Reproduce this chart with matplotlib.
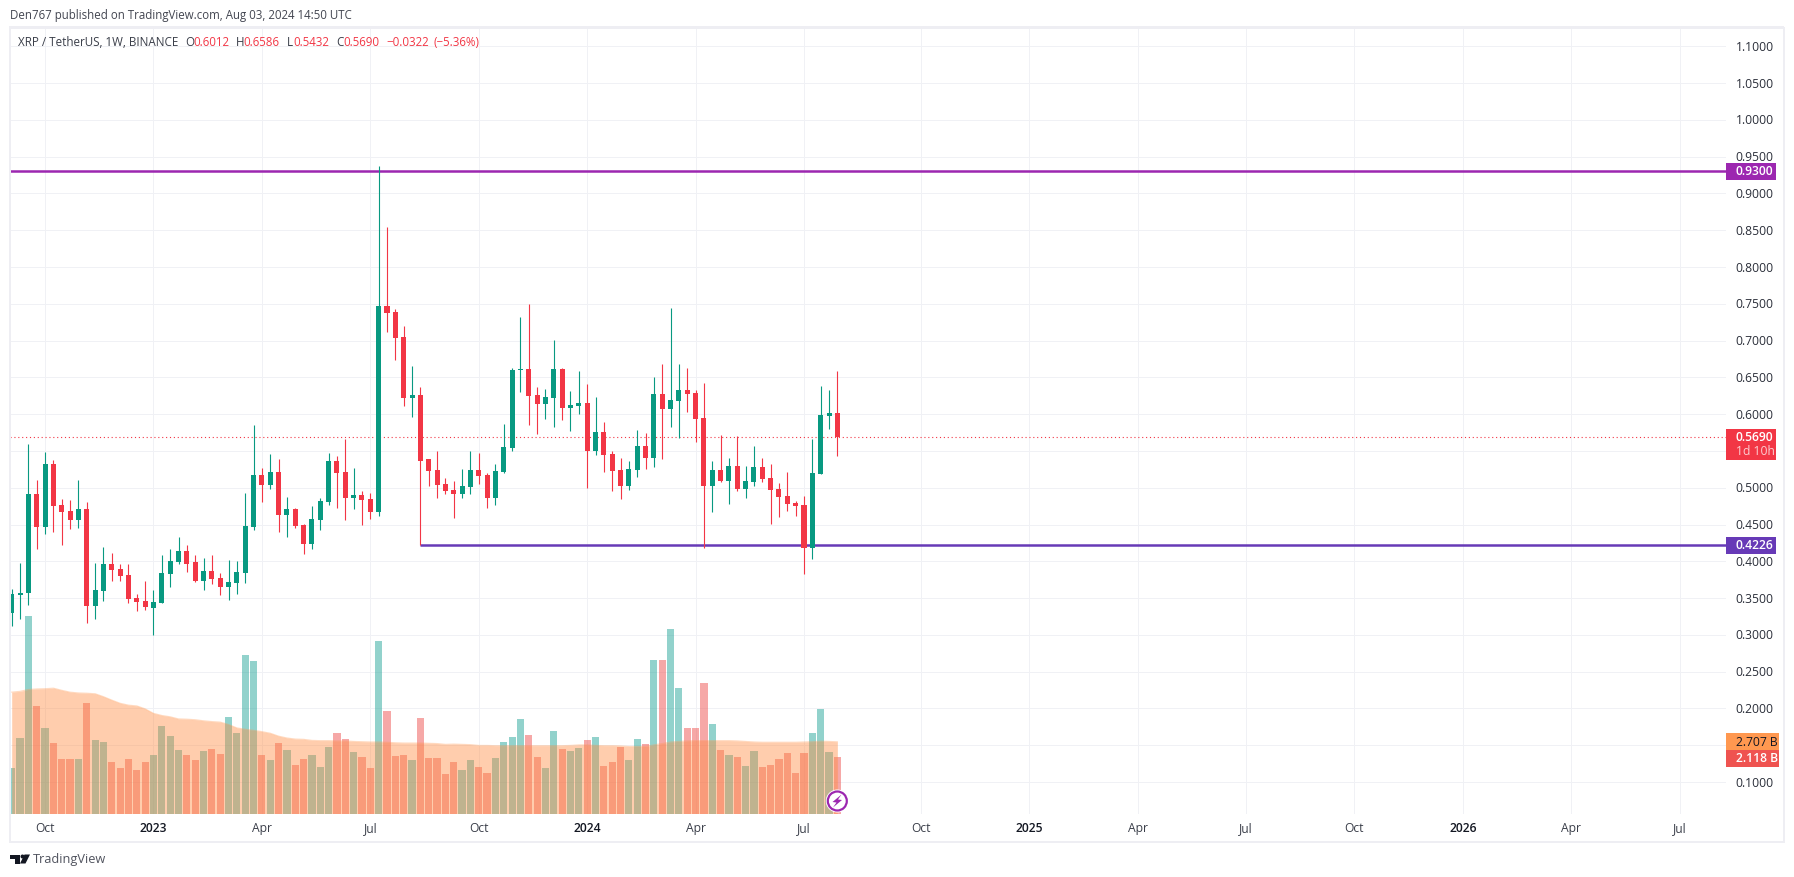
import matplotlib
matplotlib.use("Agg")
import matplotlib.pyplot as plt
from matplotlib.patches import Rectangle, Polygon, Circle

plt.rcParams["font.family"] = ["Open Sans", "DejaVu Sans"]

W, H = 1794, 877

# weekly candles, one entry per week
opens = [.3301, .3546, .3569, .4914, .4466, .5322, .4765, .4683, .4561, .4710,
         .3392, .3596, .3963, .3895, .3813, .3501, .3460, .3365, .3433, .3827,
         .3990, .4139, .3990, .3732, .3868, .3772, .3650, .3704, .3840, .4466,
         .5173, .5037, .5213, .4629, .4710, .4493, .4235, .4561, .4805, .5363,
         .5213, .4860, .4901, .4846, .4670, .7470, .7389, .7049, .6220, .6257,
         .5390, .5240, .5050, .4969, .4914, .5009, .5240, .5173, .4860, .5213,
         .5540, .6600, .6613, .6260, .6138, .6219, .6613, .6083, .6110, .6151,
         .5499, .5757, .5458, .5240, .5023, .5240, .5567, .5404, .6274, .6070,
         .6178, .6328, .6287, .5947, .5023, .5240, .5091, .5295, .4982, .5077,
         .5281, .5132, .4982, .4887, .4792, .4765, .4180, .5186, .5975, .6012]
highs = [.3623, .3976, .5594, .5105, .5485, .5376, .4846, .4833, .5105, .4805,
         .3976, .4194, .4112, .3963, .3963, .3555, .3732, .3609, .4085, .4167,
         .4330, .4221, .4085, .4044, .4085, .3840, .4017, .4003, .4928, .5852,
         .5268, .5458, .5390, .4873, .4724, .4506, .4751, .4860, .5472, .5431,
         .5662, .5268, .4955, .4928, .9373, .8544, .7429, .7198, .6654, .6370,
         .5390, .5499, .5132, .5091, .5254, .5499, .5472, .5200, .5322, .5866,
         .6627, .7320, .7497, .6369, .6342, .7004, .6627, .6314, .6586, .6409,
         .6233, .5893, .5499, .5404, .5363, .5784, .5743, .6505, .6681, .7443,
         .6681, .6627, .6328, .6423, .5363, .5716, .5404, .5703, .5295, .5567,
         .5404, .5322, .5064, .5213, .4819, .4887, .5662, .6382, .6328, .6586]
lows = [.3120, .3215, .3405, .4167, .4371, .4398, .4221, .4439, .4452, .3161,
        .3215, .3460, .3732, .3732, .3433, .3324, .3337, .3000, .3433, .3650,
        .3963, .3854, .3718, .3609, .3691, .3541, .3473, .3555, .3704, .4425,
        .4805, .4982, .4398, .4330, .4452, .4099, .4167, .4425, .4765, .4724,
        .4561, .4710, .4493, .4574, .4615, .7117, .6736, .6111, .5961, .4221,
        .5023, .4860, .4914, .4588, .4860, .4914, .5050, .4724, .4765, .5200,
        .5499, .6301, .5852, .5730, .5934, .5825, .5920, .5771, .6002, .4996,
        .5444, .5213, .4955, .4846, .4969, .5145, .5254, .5281, .5390, .5825,
        .5675, .6029, .5621, .4180, .4670, .5077, .4778, .4955, .4860, .5023,
        .5077, .4507, .4602, .4683, .4615, .3827, .4031, .5186, .5798, .5432]
closes = [.3555, .3569, .4914, .4466, .5322, .4751, .4670, .4561, .4710, .3392,
          .3609, .3963, .3881, .3800, .3487, .3446, .3378, .3446, .3840, .4003,
          .4139, .3963, .3732, .3868, .3759, .3650, .3718, .3854, .4479, .5173,
          .5037, .5213, .4629, .4710, .4479, .4235, .4574, .4819, .5363, .5200,
          .4860, .4901, .4833, .4670, .7470, .7375, .7035, .6220, .6257, .5363,
          .5227, .5037, .4955, .4914, .5023, .5240, .5159, .4860, .5227, .5553,
          .6600, .6613, .6246, .6138, .6233, .6613, .6083, .6124, .6151, .5499,
          .5757, .5444, .5227, .5023, .5254, .5567, .5404, .6274, .6070, .6192,
          .6328, .6274, .5934, .5023, .5240, .5091, .5295, .4982, .5091, .5281,
          .5118, .4969, .4873, .4778, .4751, .4180, .5200, .5988, .6015, .5690]

# volume in billions and its moving average
volumes = [1.72, 2.86, 7.47, 4.04, 3.21, 2.67, 2.07, 2.07, 2.07, 4.16,
           2.79, 2.71, 1.95, 1.72, 2.07, 1.65, 1.95, 2.22, 3.32, 2.94,
           2.41, 2.22, 2.03, 2.37, 2.45, 2.26, 3.66, 3.02, 5.98, 5.75,
           2.22, 2.03, 2.67, 2.41, 1.84, 2.07, 2.22, 1.76, 2.52, 3.02,
           2.83, 2.33, 2.14, 1.72, 6.51, 3.85, 2.18, 2.22, 2.03, 3.59,
           2.10, 2.10, 1.50, 1.95, 1.65, 2.03, 1.76, 1.53, 2.10, 2.71,
           2.90, 3.55, 2.98, 2.14, 1.72, 3.13, 2.45, 2.37, 2.48, 2.79,
           2.90, 1.80, 1.95, 2.52, 2.03, 2.83, 2.64, 5.79, 5.79, 6.97,
           4.73, 3.21, 3.24, 4.92, 3.36, 2.41, 2.22, 2.14, 1.80, 2.37,
           1.76, 1.84, 2.07, 2.29, 1.53, 2.29, 3.05, 3.93, 2.33, 2.118]
volume_ma = [4.58, 4.61, 4.68, 4.70, 4.71, 4.73, 4.65, 4.58, 4.55, 4.54,
             4.52, 4.41, 4.28, 4.16, 4.09, 4.06, 3.95, 3.78, 3.70, 3.65,
             3.57, 3.56, 3.54, 3.50, 3.47, 3.45, 3.36, 3.23, 3.18, 3.14,
             3.09, 3.03, 2.92, 2.85, 2.81, 2.80, 2.76, 2.75, 2.75, 2.74,
             2.74, 2.72, 2.71, 2.70, 2.70, 2.69, 2.67, 2.66, 2.66, 2.66,
             2.65, 2.64, 2.61, 2.62, 2.61, 2.60, 2.57, 2.57, 2.56, 2.56,
             2.56, 2.56, 2.56, 2.56, 2.56, 2.56, 2.56, 2.57, 2.59, 2.59,
             2.57, 2.56, 2.56, 2.55, 2.53, 2.53, 2.53, 2.59, 2.64, 2.70,
             2.72, 2.74, 2.75, 2.75, 2.75, 2.75, 2.75, 2.74, 2.72, 2.70,
             2.69, 2.69, 2.69, 2.69, 2.69, 2.70, 2.71, 2.73, 2.72, 2.707]

price_ticks = [.10, .15, .20, .25, .30, .35, .40, .45, .50, .55, .60,
               .65, .70, .75, .80, .85, .90, .95, 1.00, 1.05, 1.10]
# these two sit behind the value tags on the scale
hidden_ticks = [.15, .55]
time_ticks = [4, 17, 30, 43, 56, 69, 82, 95, 109, 122, 135, 148, 161, 174, 187, 200]
time_labels = ["Oct", "2023", "Apr", "Jul", "Oct", "2024", "Apr", "Jul",
               "Oct", "2025", "Apr", "Jul", "Oct", "2026", "Apr", "Jul"]

resistance = 0.93
support = 0.4226
support_start = 49
last_close = 0.569

GREEN = "#089981"
RED = "#f23645"
TEXT = "#131722"
GRID = "#f0f1f5"
BORDER = "#eeeef3"

fig = plt.figure(figsize=(W / 100, H / 100), dpi=100, facecolor="white")


def fx(x):
    return x / W


def fy(y):
    return 1 - y / H


def box(x0, y0, x1, y1, color, zorder=5):
    fig.add_artist(Rectangle((fx(x0), fy(y1)), fx(x1 - x0), (y1 - y0) / H,
                             transform=fig.transFigure, color=color, lw=0, zorder=zorder))


def label(x, y, s, color=TEXT, size=8.7, ha="left", weight="normal", alpha=1):
    fig.text(fx(x), fy(y + 1), s, color=color, fontsize=size, ha=ha, va="center",
             fontweight=weight, alpha=alpha, zorder=7)


left, right, top, bottom = 10, 1726, 28, 813.5
ax = fig.add_axes([fx(left), fy(bottom), fx(right - left), (bottom - top) / H])
ax.set_xlim((left - 11.7) / 8.34, (right - 11.7) / 8.34)
ax.set_ylim(0.0572, 1.1249)
ax.axis("off")

vol = ax.twinx()
vol.set_ylim(0, (bottom - top) / 26.5)
vol.axis("off")
vol.set_zorder(1)
ax.set_zorder(2)
ax.patch.set_visible(False)

xmin, xmax = ax.get_xlim()
ymin, ymax = ax.get_ylim()
vol.hlines(price_ticks, xmin, xmax, transform=ax.transData, color=GRID, lw=0.72, zorder=0)
vol.vlines(time_ticks, ymin, ymax, transform=ax.transData, color=GRID, lw=0.72, zorder=0)

x = list(range(len(closes)))
vol_colors = ["#26a69a" if c >= o else "#ef5350" for o, c in zip(opens, closes)]
vol.bar(x, volumes, width=0.86, color=vol_colors, alpha=0.5, lw=0, zorder=2)
vol.fill_between(x, 0, volume_ma, color="#ff8a3c", alpha=0.42, lw=0, zorder=3)
vol.plot(x, volume_ma, color="#ff9850", alpha=0.35, lw=0.8, zorder=3)

ax.axhline(last_close, color=RED, lw=0.8, ls=(0, (1, 2.5)), zorder=2)
ax.axhline(resistance, color="#9c27b0", lw=1.8, zorder=4)
ax.plot([support_start, xmax], [support, support], color="#673ab7", lw=1.8,
        solid_capstyle="butt", zorder=4)

for i in x:
    up = closes[i] >= opens[i]
    color = GREEN if up else RED
    ax.vlines(i, lows[i], highs[i], color=color, lw=0.8, zorder=5)
    b0, b1 = min(opens[i], closes[i]), max(opens[i], closes[i])
    ax.bar(i, max(b1 - b0, 0.0015), bottom=b0, width=0.6, color=color, lw=0, zorder=5)

# outer frame of the chart
box(9, 26.5, 1784, 28.5, BORDER)
box(9, 26.5, 11, 842.5, BORDER)
box(1782.5, 26.5, 1784.5, 842.5, BORDER)
box(9, 840.5, 1784.5, 842.5, BORDER)

# price scale
p_per_px = (ymax - ymin) / (bottom - top)
for t in price_ticks:
    if t not in hidden_ticks:
        label(1735.5, bottom - (t - ymin) / p_per_px, f"{t:.4f}", color="#2a2e39")

for px_y0, px_y1, c, s in [(163, 180, "#9c27b0", "0.9300"), (537.3, 554, "#673ab7", "0.4226")]:
    box(1726, px_y0, 1776, px_y1, c)
    label(1735.5, (px_y0 + px_y1) / 2 - 1, s, color="white", weight="semibold")
box(1726, 429, 1776, 460, RED)
label(1735.5, 436.5, "0.5690", color="white", weight="semibold")
label(1735.5, 451, "1d 10h", color="white", alpha=0.75)
box(1726, 733, 1778.7, 750, "#ff9850")
label(1735.5, 741, "2.707 B", color=TEXT)
box(1726, 750, 1778.7, 767, "#ef5350")
label(1735.5, 757.5, "2.118 B", color="white", weight="semibold")

# time axis
for t, s in zip(time_ticks, time_labels):
    is_year = s.isdigit()
    label(11.7 + t * 8.34, 827.7, s, ha="center", color=TEXT if is_year else "#3a3e49",
          weight="semibold" if is_year else "normal")

# header and legend line
label(10, 14.5, "Den767 published on TradingView.com, Aug 03, 2024 14:50 UTC", color="#434651", size=8.3)
label(17.5, 41, "XRP / TetherUS, 1W, BINANCE", color="#3a3e49", size=8.4)
for lx, s in [(185, "O"), (236, "H"), (287, "L"), (336, "C")]:
    label(lx, 41, s, color="#3a3e49", size=8.4)
for lx, s in [(193.3, "0.6012"), (243.7, "0.6586"), (293, "0.5432"), (343, "0.5690"),
              (386.7, "\u22120.0322"), (433, "(\u22125.36%)")]:
    label(lx, 41, s, color=RED, size=8.3)

# bolt badge on the last bar
fig.add_artist(Circle((837.3, H - 801), 11.5, transform=None, fc="white", ec="none", zorder=6))
fig.add_artist(Circle((837.3, H - 801), 9.5, transform=None, fc="white", ec="#9c27b0", lw=1.6, zorder=6))
bolt = [(841.5, 794.5), (832.5, 802), (836.5, 802.5), (833, 807.5), (842, 800), (838, 799.5)]
fig.add_artist(Polygon([(a, H - b) for a, b in bolt], transform=None, fc="#9c27b0", ec="none", zorder=6))

# TradingView mark
logo = [[(10, 854.5), (20, 854.5), (20, 863.5), (15, 863.5), (15, 858.5), (10, 858.5)],
        [(24.5, 854.5), (30, 854.5), (25.5, 863.5), (20, 863.5)]]
for pts in logo:
    fig.add_artist(Polygon([(fx(a), fy(b)) for a, b in pts], transform=fig.transFigure,
                           fc="#131722", ec="none", zorder=6))
fig.add_artist(Circle((22.5, H - 856.5), 2, transform=None, fc="#131722", ec="none", zorder=6))
label(33, 858.5, "TradingView", color="#50535e", size=9.2)

fig.savefig("out.png", dpi=100)
